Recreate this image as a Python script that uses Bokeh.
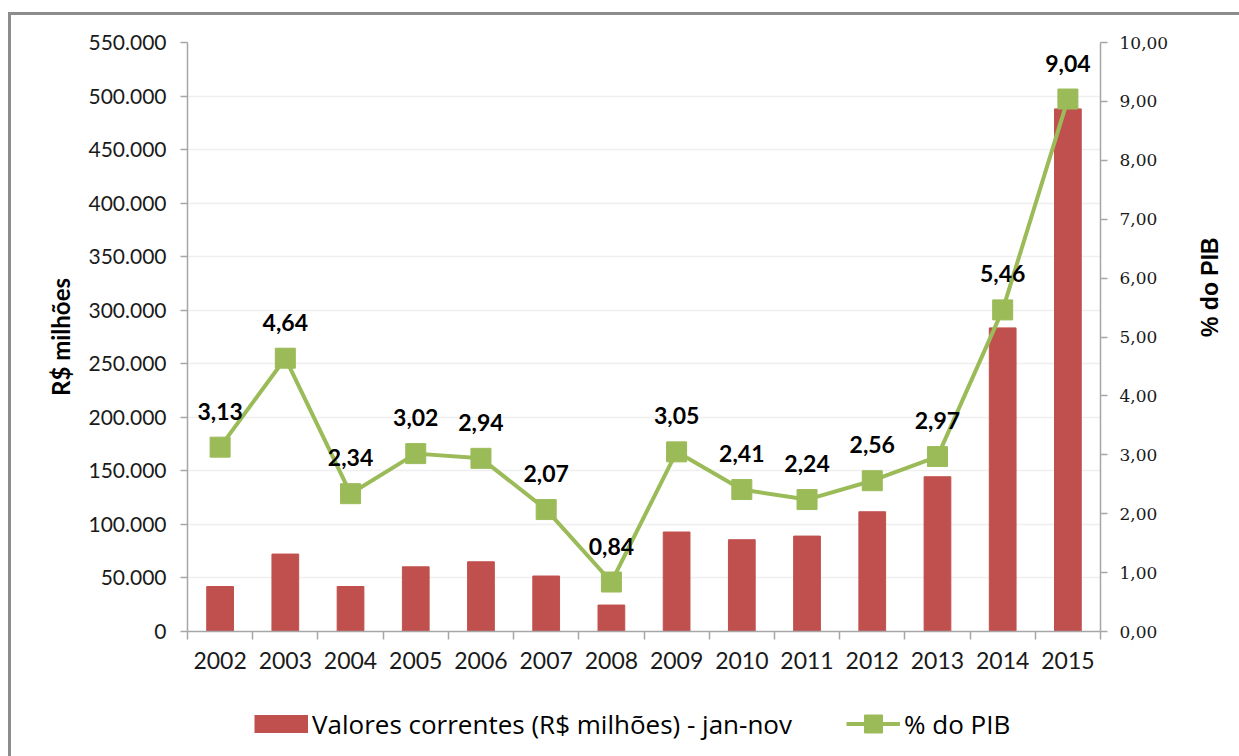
import math
from bokeh.plotting import figure
from bokeh.layouts import column
from bokeh.models import (Range1d, LinearAxis, FixedTicker, ColumnDataSource, Legend, LegendItem)
from bokeh.core.properties import value
from bokeh.embed import file_html
from bokeh.resources import INLINE

years = ["2002", "2003", "2004", "2005", "2006", "2007", "2008", "2009", "2010", "2011", "2012", "2013", "2014", "2015"]
valores = [42000, 72300, 42000, 60400, 65100, 51800, 24700, 92900, 85700, 89100, 111800, 144500, 283500, 488000]
pct_pib = [3.13, 4.64, 2.34, 3.02, 2.94, 2.07, 0.84, 3.05, 2.41, 2.24, 2.56, 2.97, 5.46, 9.04]
left_ticks = list(range(0, 550001, 50000))
right_ticks = list(range(0, 11))
legend_labels = ["Valores correntes (R$ milhões) - jan-nov", "% do PIB"]

xs = [i + 0.5 for i in range(len(years))]
src = ColumnDataSource(dict(
    x=xs, v=valores, p=pct_pib,
    lbl=[f"{v:.2f}".replace(".", ",") for v in pct_pib],
))

BAR = "#C0504D"
GREEN = "#9BBB59"
AX = "#A6A6A6"
FRAME = "#8C8C8C"

p = figure(width=1239, height=690, output_backend="svg", toolbar_location=None,
           x_range=Range1d(0, len(years)), y_range=Range1d(0, 550000),
           min_border_left=187, min_border_right=137, min_border_top=42, min_border_bottom=59)
p.background_fill_color = "white"
p.border_fill_alpha = 0
p.outline_line_color = None

p.extra_y_ranges = {"pct": Range1d(0, 10)}

bars = p.vbar(x="x", top="v", width=0.41, source=src, fill_color=BAR, line_color=BAR)
line = p.line(x="x", y="p", source=src, y_range_name="pct", line_color=GREEN, line_width=4)
marks = p.scatter(x="x", y="p", source=src, y_range_name="pct", marker="square", size=20,
                  fill_color=GREEN, line_color=GREEN)
p.text(x="x", y="p", text="lbl", source=src, y_range_name="pct",
       text_font=value("Lato"), text_font_style="bold", text_font_size="23px",
       text_align="center", text_baseline="alphabetic", y_offset=-36, text_color="black")

# x axis
xa = p.xaxis[0]
xa.ticker = FixedTicker(ticks=xs, minor_ticks=list(range(len(years) + 1)))
xa.major_label_overrides = {x: y for x, y in zip(xs, years)}
xa.major_tick_out = 0
xa.major_tick_in = 0
xa.minor_tick_out = 8
xa.minor_tick_in = 0
xa.minor_tick_line_color = AX
xa.minor_tick_line_width = 1.5
xa.axis_line_color = AX
xa.axis_line_width = 1.5
xa.major_label_text_font = "Lato"
xa.major_label_text_font_size = "23px"
xa.major_label_text_color = "#1a1a1a"
xa.major_label_standoff = 12

# left axis
ya = p.yaxis[0]
ya.ticker = FixedTicker(ticks=left_ticks)
ya.major_label_overrides = {t: f"{t:,}".replace(",", ".") for t in left_ticks}
ya.minor_tick_line_color = None
ya.major_tick_out = 7
ya.major_tick_in = 0
ya.major_tick_line_color = AX
ya.major_tick_line_width = 1.5
ya.axis_line_color = AX
ya.axis_line_width = 1.5
ya.major_label_text_font = "Lato"
ya.major_label_text_font_size = "21px"
ya.major_label_text_color = "#1a1a1a"
ya.major_label_standoff = 14
ya.axis_label = "R$ milhões"
ya.axis_label_text_font = "Lato"
ya.axis_label_text_font_style = "bold"
ya.axis_label_text_font_size = "24px"
ya.axis_label_text_color = "black"
ya.axis_label_standoff = 10

# right axis
ra = LinearAxis(y_range_name="pct", ticker=FixedTicker(ticks=right_ticks))
ra.major_label_overrides = {t: f"{t},00" for t in right_ticks}
ra.minor_tick_line_color = None
ra.major_tick_out = 7
ra.major_tick_in = 0
ra.major_tick_line_color = AX
ra.major_tick_line_width = 1.5
ra.axis_line_color = AX
ra.axis_line_width = 1.5
ra.major_label_text_font = "DejaVu Serif"
ra.major_label_text_font_size = "17px"
ra.major_label_text_color = "#1a1a1a"
ra.major_label_standoff = 12
ra.axis_label = "% do PIB"
ra.axis_label_text_font = "Liberation Sans"
ra.axis_label_text_font_style = "bold"
ra.axis_label_text_font_size = "23px"
ra.axis_label_text_color = "black"
ra.axis_label_standoff = 39
if "axis_label_orientation" in ra.properties():
    ra.axis_label_orientation = math.pi / 2
p.add_layout(ra, "right")

p.xgrid.grid_line_color = None
p.ygrid[0].ticker = FixedTicker(ticks=left_ticks)
p.ygrid.grid_line_color = "#EFEFEF"
p.ygrid.grid_line_width = 1.5

# legend strip (separate figure so the legend sits below the chart)
lf = figure(width=1239, height=66, output_backend="svg", toolbar_location=None,
            x_range=Range1d(0, 1), y_range=Range1d(0, 1),
            x_axis_location=None, y_axis_location=None,
            min_border_left=0, min_border_right=0, min_border_top=0, min_border_bottom=0)
lf.grid.visible = False
lf.outline_line_color = None
lf.background_fill_alpha = 0
lf.border_fill_alpha = 0
sw_bar = lf.line(x=[-2, -1], y=[-2, -2], line_color=BAR, line_width=18, line_cap="butt")
sw_line = lf.line(x=[-2, -1], y=[-2, -2], line_color=GREEN, line_width=4)
sw_mark = lf.scatter(x=[-2], y=[-2], marker="square", fill_color=GREEN, line_color=GREEN)
leg = Legend(items=[LegendItem(label=legend_labels[0], renderers=[sw_bar]),
                    LegendItem(label=legend_labels[1], renderers=[sw_line, sw_mark])],
             orientation="horizontal", location=(67, 10),
             glyph_width=54, glyph_height=45, label_standoff=4, spacing=54,
             label_text_font="Open Sans", label_text_font_size="26px", label_text_color="black",
             border_line_color=None, background_fill_alpha=0, padding=0, margin=0)
lf.add_layout(leg, "center")

layout = column(p, lf, spacing=0, styles={
    "background": (f"linear-gradient({FRAME},{FRAME}) 8px 12px / 3px 100% no-repeat, "
                   f"linear-gradient({FRAME},{FRAME}) 8px 12px / 100% 3px no-repeat, white"),
})

open("out.html", "w").write(file_html(layout, INLINE))
